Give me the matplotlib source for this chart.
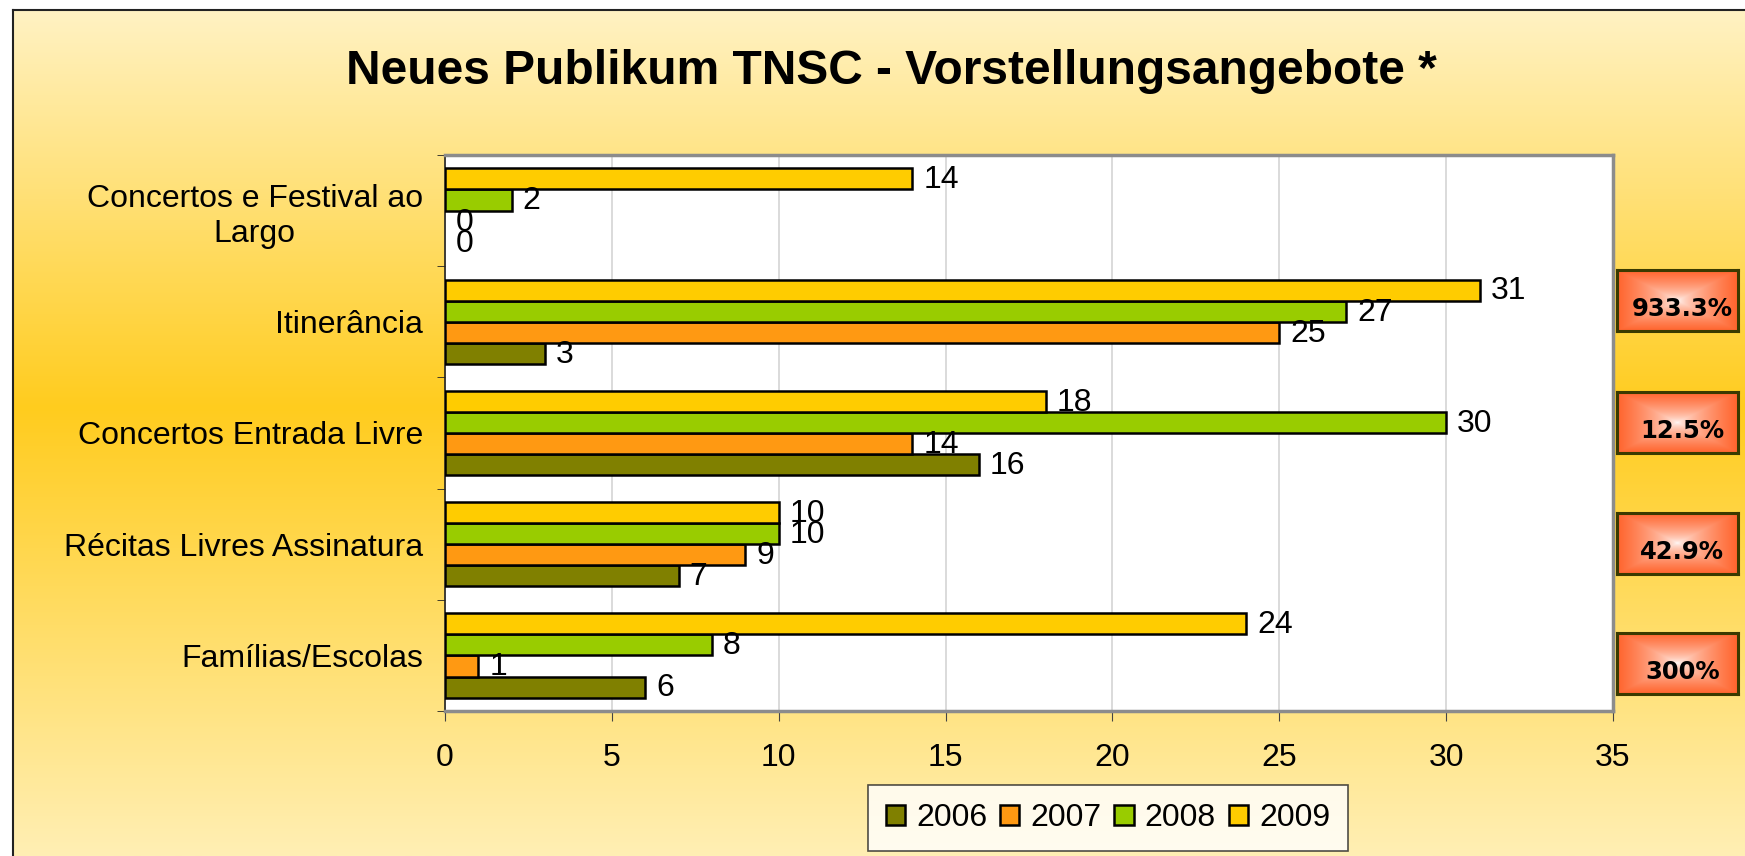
import matplotlib.pyplot as plt
import numpy as np
from matplotlib.patches import Patch

# data
categories = ['Famílias/Escolas', 'Récitas Livres Assinatura', 'Concertos Entrada Livre',
              'Itinerância', 'Concertos e Festival ao\nLargo']
years = ['2006', '2007', '2008', '2009']
v2006 = [6, 7, 16, 3, 0]
v2007 = [1, 9, 14, 25, 0]
v2008 = [8, 10, 30, 27, 2]
v2009 = [24, 10, 18, 31, 14]
growth = ['933.3%', '12.5%', '42.9%', '300%']

colors = ['#808000', '#FF9912', '#99CC00', '#FFCC00']
series = [v2006, v2007, v2008, v2009]

plt.rcParams['font.family'] = ['Liberation Sans', 'DejaVu Sans']

W, H = 1745, 856
fig = plt.figure(figsize=(W / 100, H / 100), dpi=100)

# background with vertical gradient and border
bg = fig.add_axes([0, 0, 1, 1], zorder=-5)
bg.set_xlim(0, W)
bg.set_ylim(H, 0)
bg.axis('off')
yy = np.linspace(0, 1, 300)
top = np.array([255, 242, 195]) / 255
mid = np.array([255, 204, 30]) / 255
bot = np.array([255, 239, 180]) / 255
grad = np.zeros((300, 1, 3))
for k, t in enumerate(yy):
    if t < 0.47:
        f = t / 0.47
        grad[k, 0] = top * (1 - f) + mid * f
    else:
        f = (t - 0.47) / 0.53
        grad[k, 0] = mid * (1 - f) + bot * f
bg.imshow(grad, extent=[13, W, H, 10], aspect='auto', interpolation='bilinear')
bg.plot([13, 13], [H, 10], color='#222222', lw=1.5)
bg.plot([13, W], [10, 10], color='#222222', lw=1.5)

# main plot
ax = fig.add_axes([445 / W, 1 - 711 / H, (1613 - 445) / W, (711 - 155) / H])
ax.set_facecolor('white')
y = np.arange(len(categories))
bh = 0.19
for i, vals in enumerate(series):
    pos = y + (i - 1.5) * bh
    lws = [1.8 if v > 0 else 0 for v in vals]
    ax.barh(pos, vals, height=bh, color=colors[i], edgecolor='black', linewidth=lws, zorder=3)
    for p, v in zip(pos, vals):
        ax.annotate(str(v), (v, p), xytext=(8, -1), textcoords='offset points',
                    va='center', ha='left', fontsize=23, zorder=4)

ax.set_xlim(0, 35)
ax.set_ylim(-0.5, 4.5)
ax.set_xticks(range(0, 36, 5))
ax.tick_params(axis='x', labelsize=23, length=7, pad=16, color='#444444')
ax.set_yticks(y)
ax.set_yticklabels(categories, fontsize=23)
for lab in ax.get_yticklabels():
    lab.set_multialignment('center')
ax.tick_params(axis='y', length=0, pad=16)
ax.set_yticks(np.arange(-0.5, 5, 1), minor=True)
ax.tick_params(axis='y', which='minor', length=6, color='#222222')
ax.grid(axis='x', color='#D4D4D4', linewidth=1.2, zorder=0)
ax.set_axisbelow(True)
ax.spines['left'].set_color('#222222')
ax.spines['left'].set_linewidth(1.2)
for s in ['top', 'right', 'bottom']:
    ax.spines[s].set_color('#8C8C8C')
    ax.spines[s].set_linewidth(2.5)

# title
fig.text(891 / W, 1 - 72 / H, 'Neues Publikum TNSC - Vorstellungsangebote *',
         ha='center', va='center', fontsize=34.5, fontweight='bold')

# legend
handles = [Patch(facecolor=c, edgecolor='black', linewidth=1.8) for c in colors]
leg = fig.legend(handles, years, loc='center', bbox_to_anchor=(1108 / W, 1 - 818 / H),
                 ncol=4, fontsize=23, frameon=True, fancybox=False, handlelength=0.6,
                 handleheight=0.6, handletextpad=0.35, columnspacing=0.4, borderpad=0.55)
leg.get_frame().set_edgecolor('#222222')
leg.get_frame().set_linewidth(1.2)
leg.get_frame().set_facecolor('white')

# growth boxes with a centre-out gradient
n = 120
gx = np.linspace(-1, 1, n)
X, Y = np.meshgrid(gx, gx)
d = np.clip(np.maximum(np.abs(X), np.abs(Y)), 0, 1) ** 0.6
white = np.array([1, 1, 1])
edge = np.array([255, 100, 45]) / 255
box_img = white[None, None, :] * (1 - d[..., None]) + edge[None, None, :] * d[..., None]
box_tops = [270, 392, 513, 633]
for label, bt in zip(growth, box_tops):
    bx = fig.add_axes([1617 / W, 1 - (bt + 61) / H, 121 / W, 61 / H])
    bx.imshow(box_img, extent=[0, 1, 0, 1], aspect='auto', interpolation='bilinear')
    bx.set_xticks([])
    bx.set_yticks([])
    for s in bx.spines.values():
        s.set_color('#3A3A00')
        s.set_linewidth(2.2)
    bx.text(0.54, 0.36, label, ha='center', va='center', fontsize=17.5, fontweight='bold',
            family='DejaVu Sans', transform=bx.transAxes)

fig.savefig('out.png', dpi=100)
